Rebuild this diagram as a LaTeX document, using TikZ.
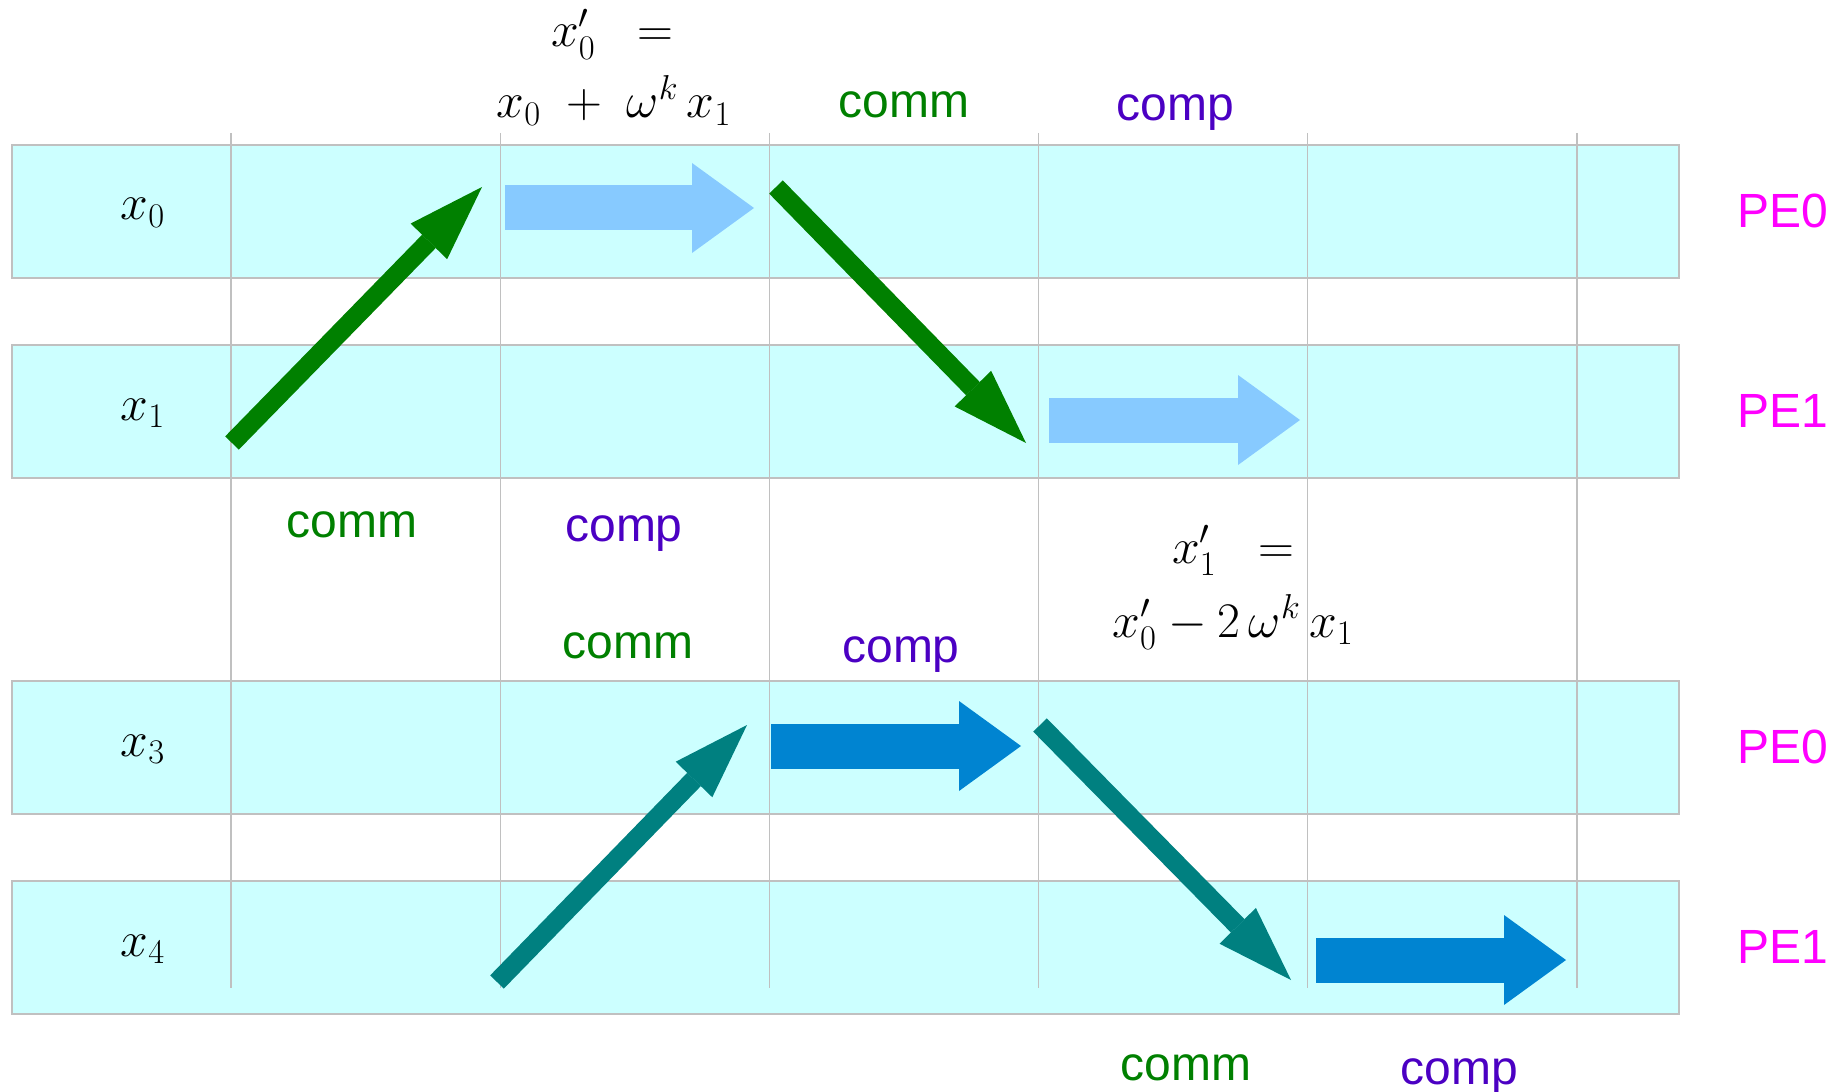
\documentclass[tikz,border=0pt]{standalone}
\usepackage{fontspec}
\newfontfamily\labelfont{Liberation Sans}
\usetikzlibrary{arrows.meta}
\definecolor{bandfill}{RGB}{204,255,255}
\definecolor{gridgray}{RGB}{192,192,192}
\definecolor{paleblue}{RGB}{135,202,255}
\definecolor{deepblue}{RGB}{0,132,209}
\definecolor{commgreen}{RGB}{0,128,0}
\definecolor{commteal}{RGB}{0,128,128}
\definecolor{comppurple}{RGB}{75,0,195}
\definecolor{pemagenta}{RGB}{255,0,255}
\tikzset{
  band/.style={draw=gridgray, fill=bandfill, line width=0.8pt},
  gridline/.style={draw=gridgray, line width=0.6pt},
  commarrow/.style={line width=9.5pt, -{Triangle[width=25.5pt,length=38pt,line width=0pt]}},
  comparrow/.style={line width=22.5pt, -{Triangle[width=45pt,length=31pt,line width=0pt]}},
  commlabel/.style={anchor=base, inner sep=1pt, text=commgreen, font=\labelfont\fontsize{24}{28}\selectfont},
  complabel/.style={anchor=base, inner sep=1pt, text=comppurple, font=\labelfont\fontsize{24}{28}\selectfont},
  pelabel/.style={text=pemagenta, font=\labelfont\fontsize{24}{28}\selectfont},
  mathlabel/.style={anchor=base, inner sep=1pt, font=\fontsize{24}{28}\selectfont}
}
\begin{document}
\begin{tikzpicture}[x=0.5pt, y=-0.5pt]
\useasboundingbox (0,0) rectangle (1845,1091);
% processor rows and time steps
\foreach \t in {145,345,681,881} {
	\draw[band] (12,\t) rectangle (1679,\t+133);
}
\foreach \i in {0,...,5} {
	\draw[gridline] ({231+269.2*\i},133) -- ({231+269.2*\i},988);
}
\foreach \n / \y / \p in {0/211/0,1/411/1,3/747/0,4/947/1} {
	\node[mathlabel] (x\n) at (143,\y+9) {$x_{\n}$};
	\node[pelabel] (pe\n) at (1783,\y) {PE\p};
}
% arrow end points
\foreach \name / \x / \y in {ga/232/443, gb/482/187, gc/776/187, gd/1026/443,
	ba/505/208, bb/754/208, bc/1049/420, bd/1300/420,
	da/771/746, db/1021/746, dc/1316/960, dd/1566/960,
	ta/497/982, tb/747/725, tc/1040/725, td/1291/980} {
	\coordinate (\name) at (\x,\y);
}
\draw[commarrow, commgreen] (ga) -- (gb);
\draw[commarrow, commgreen] (gc) -- (gd);
\draw[commarrow, commteal] (ta) -- (tb);
\draw[commarrow, commteal] (tc) -- (td);
\draw[comparrow, paleblue] (ba) -- (bb);
\draw[comparrow, paleblue] (bc) -- (bd);
\draw[comparrow, deepblue] (da) -- (db);
\draw[comparrow, deepblue] (dc) -- (dd);
% step labels
\node[commlabel] (comm1) at (904,118) {comm};
\node[complabel] (comp1) at (1175,121) {comp};
\node[commlabel] (comm2) at (352,537) {comm};
\node[complabel] (comp2) at (624,541) {comp};
\node[commlabel] (comm3) at (628,658) {comm};
\node[complabel] (comp3) at (901,662) {comp};
\node[commlabel] (comm4) at (1186,1080) {comm};
\node[complabel] (comp4) at (1459,1084) {comp};
\node[mathlabel] (eqa) at (612,47) {$x'_{0}\;\;=$};
\node[mathlabel] (eqb) at (614,118) {$x_{0} \;+\; \omega^{k}\,x_{1}$};
\node[mathlabel] (eqc) at (1233,563) {$x'_{1}\;\;=$};
\node[mathlabel] (eqd) at (1233,637) {$x'_{0} - 2\,\omega^{k}\,x_{1}$};
\end{tikzpicture}
\end{document}
